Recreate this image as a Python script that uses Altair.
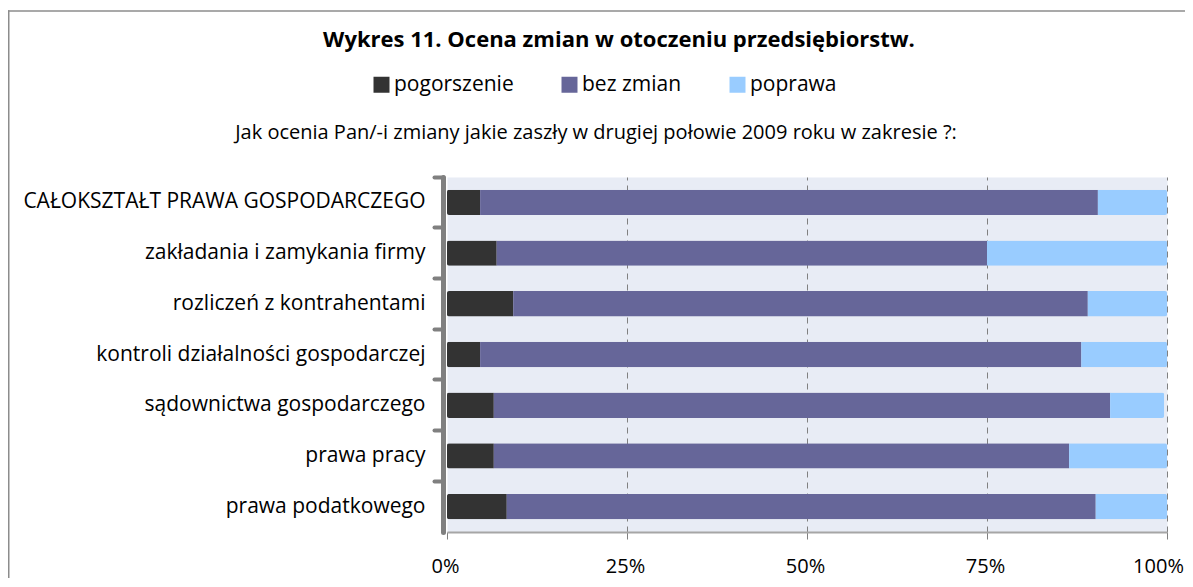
import altair as alt
import pandas as pd

categories = [
    "CAŁOKSZTAŁT PRAWA GOSPODARCZEGO",
    "zakładania i zamykania firmy",
    "rozliczeń z kontrahentami",
    "kontroli działalności gospodarczej",
    "sądownictwa gospodarczego",
    "prawa pracy",
    "prawa podatkowego",
]
series = ["pogorszenie", "bez zmian", "poprawa"]
pogorszenie = [4.6, 6.9, 9.2, 4.6, 6.5, 6.5, 8.3]
bez_zmian = [85.8, 68.1, 79.8, 83.5, 85.6, 79.9, 81.8]
poprawa = [9.6, 25.0, 11.0, 11.9, 7.5, 13.6, 9.9]
colors = ["#333333", "#666699", "#99CCFF"]
tick_values = [0, 25, 50, 75, 100]

title_text = "Wykres 11. Ocena zmian w otoczeniu przedsiębiorstw."
subtitle_text = "Jak ocenia Pan/-i  zmiany jakie zaszły w drugiej połowie 2009 roku w zakresie ?:"

FONT = "Open Sans"
BORDER = "#8C8C8C"

rows = []
for i, c in enumerate(categories):
    for j, (s, vals) in enumerate(zip(series, [pogorszenie, bez_zmian, poprawa])):
        rows.append({"cat": c, "series": s, "value": vals[i], "ord": j})
df = pd.DataFrame(rows)

bars = alt.Chart(df).mark_bar(
    height=alt.RelativeBandSize(0.5), cornerRadius=2
).encode(
    y=alt.Y(
        "cat:N",
        sort=categories,
        scale=alt.Scale(paddingInner=0, paddingOuter=0),
        axis=alt.Axis(
            title=None,
            offset=4,
            domainColor="#808080",
            domainWidth=5,
            domainCap="round",
            tickColor="#808080",
            tickWidth=4,
            tickSize=9,
            tickCap="round",
            bandPosition=0,
            labelPadding=9,
            labelFontSize=21,
            labelFont=FONT,
            labelColor="#000000",
            labelLimit=500,
        ),
    ),
    x=alt.X(
        "value:Q",
        stack="zero",
        scale=alt.Scale(domain=[0, 100], nice=False),
        axis=alt.Axis(
            title=None,
            values=tick_values,
            labelExpr="datum.value + '%'",
            labelFlush=False,
            labelOffset={"condition": {"test": "datum.value === 100", "value": -9}, "value": -2},
            domainColor="#A6A6A6",
            domainWidth=2,
            tickColor="#808080",
            tickSize=7,
            tickWidth=1,
            grid=True,
            gridColor="#808080",
            gridDash=[6, 5],
            gridWidth=1,
            gridOpacity={"condition": {"test": "datum.value === 0", "value": 0}, "value": 1},
            labelPadding=17,
            labelFontSize=20,
            labelFont=FONT,
            labelColor="#000000",
        ),
    ),
    color=alt.Color(
        "series:N",
        scale=alt.Scale(domain=series, range=colors),
        legend=alt.Legend(
            title=None,
            orient="none",
            legendX=-76,
            legendY=-103,
            direction="horizontal",
            symbolType="square",
            symbolSize=256,
            symbolStrokeWidth=0,
            symbolOpacity=1,
            labelFontSize=21,
            labelFont=FONT,
            labelColor="#000000",
            labelOffset=2,
            columnPadding=45,
        ),
    ),
    order=alt.Order("ord:Q"),
)

one = pd.DataFrame({"a": [0]})

title = alt.Chart(one).mark_text(
    text=title_text, font=FONT, fontSize=22, fontWeight="bold", color="#000000",
    align="center", baseline="middle",
).encode(x=alt.value(172), y=alt.value(-137))

subtitle = alt.Chart(one).mark_text(
    text=subtitle_text, font=FONT, fontSize=20, color="#000000",
    align="center", baseline="middle",
).encode(x=alt.value(149), y=alt.value(-44))

top_border = alt.Chart(one).mark_rect(color=BORDER).encode(
    x=alt.value(-439), x2=alt.value(738),
    y=alt.value(-166.75), y2=alt.value(-165.25),
)
left_border = alt.Chart(one).mark_rect(color=BORDER).encode(
    x=alt.value(-439), x2=alt.value(-437.5),
    y=alt.value(-166.75), y2=alt.value(401),
)

chart = alt.layer(bars, title, subtitle, top_border, left_border).properties(
    width=720,
    height=355,
    autosize=alt.AutoSizeParams(type="none"),
    padding={"left": 439, "top": 169, "right": 18, "bottom": 46},
).configure_view(fill="#E8ECF5", stroke="transparent")

chart.save("out.html", embed_options={"renderer": "svg", "actions": False})
